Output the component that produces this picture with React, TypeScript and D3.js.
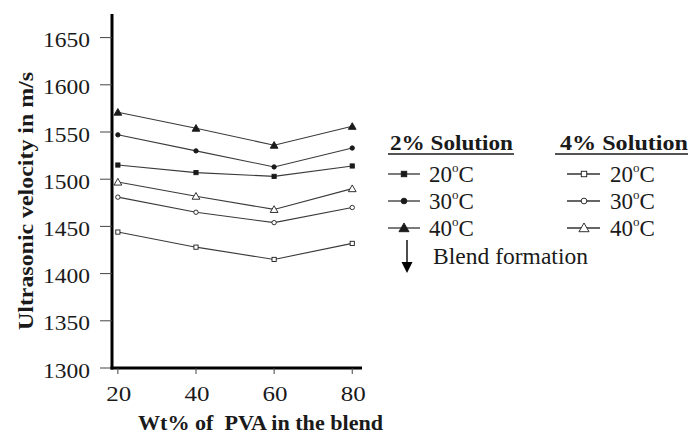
import React from "react";
import * as d3 from "d3";

// --- Data ---
const PVA = [20, 40, 60, 80];
const SOL2_20 = [1515, 1507, 1503, 1514];
const SOL2_30 = [1547, 1530, 1513, 1533];
const SOL2_40 = [1571, 1554, 1536, 1556];
const SOL4_20 = [1444, 1428, 1415, 1432];
const SOL4_30 = [1481, 1465, 1454, 1470];
const SOL4_40 = [1497, 1482, 1468, 1490];
const Y_TICKS = [1300, 1350, 1400, 1450, 1500, 1550, 1600, 1650];
const X_TICKS = [20, 40, 60, 80];
const TEMPS = ["20", "30", "40"];

type Marker = "square" | "circle" | "triangle";
const MARKERS: Marker[] = ["square", "circle", "triangle"];
const SERIES: { values: number[]; marker: Marker; filled: boolean }[] = [
  { values: SOL2_20, marker: "square", filled: true },
  { values: SOL2_30, marker: "circle", filled: true },
  { values: SOL2_40, marker: "triangle", filled: true },
  { values: SOL4_20, marker: "square", filled: false },
  { values: SOL4_30, marker: "circle", filled: false },
  { values: SOL4_40, marker: "triangle", filled: false },
];

const W = 691;
const H = 434;
const FONT = "'Liberation Serif', 'DejaVu Serif', serif";
const INK = "#1a1a1a";

function MarkerShape({ x, y, kind, filled, big = false }: { x: number; y: number; kind: Marker; filled: boolean; big?: boolean }) {
  const fill = filled ? INK : "#fff";
  const s = big ? 1.3 : 1;
  if (kind === "square") {
    const h = 2.1 * s;
    return <rect x={x - h} y={y - h} width={2 * h} height={2 * h} fill={fill} stroke={INK} strokeWidth={0.9} />;
  }
  if (kind === "circle") {
    return <circle cx={x} cy={y} r={2.2 * s} fill={fill} stroke={INK} strokeWidth={0.9} />;
  }
  const sym = d3.symbol().type(d3.symbolTriangle).size(26 * s * s)();
  return <path d={sym || ""} transform={`translate(${x},${y + 0.8})`} fill={fill} stroke={INK} strokeWidth={0.9} />;
}

function Deg({ t, x, y }: { t: string; x: number; y: number }) {
  return (
    <text x={x} y={y} fontFamily={FONT} fontSize={23} fill={INK}>
      {t}
      <tspan dy={-10} fontSize={13}>o</tspan>
      <tspan dy={10}>C</tspan>
    </text>
  );
}

export default function App() {
  const x = d3.scaleLinear().domain([18.5, 82.5]).range([112, 362]);
  const y = d3.scaleLinear().domain([1300, 1675]).range([368, 14]);
  const line = d3
    .line<number>()
    .x((_, i) => x(PVA[i]))
    .y((d) => y(d));

  const rowY = [182, 209, 236];

  return (
    <svg width={W} height={H} style={{ position: "absolute", left: 0, top: 0, background: "#fff" }}>
      {/* series */}
      {SERIES.map((s, k) => (
        <g key={k}>
          <path d={line(s.values) || ""} fill="none" stroke="#3a3a3a" strokeWidth={1.1} />
          {s.values.map((v, i) => (
            <MarkerShape key={i} x={x(PVA[i])} y={y(v)} kind={s.marker} filled={s.filled} />
          ))}
        </g>
      ))}

      {/* y axis */}
      <line x1={112} x2={112} y1={14} y2={369.5} stroke="#000" strokeWidth={3} />
      {Y_TICKS.map((t) => (
        <g key={t}>
          <line x1={100} x2={112} y1={y(t)} y2={y(t)} stroke="#444" strokeWidth={1} />
          <text x={90} y={y(t) + 9.5} textAnchor="end" fontFamily={FONT} fontSize={22} fill={INK} textLength={47} lengthAdjust="spacingAndGlyphs">
            {t}
          </text>
        </g>
      ))}

      {/* x axis */}
      <line x1={110.5} x2={362} y1={368} y2={368} stroke="#000" strokeWidth={3} />
      {X_TICKS.map((t) => (
        <g key={t}>
          <line x1={x(t)} x2={x(t)} y1={368} y2={374} stroke="#444" strokeWidth={1} />
          <text x={x(t) + 1} y={401} textAnchor="middle" fontFamily={FONT} fontSize={22} fill={INK} textLength={25} lengthAdjust="spacingAndGlyphs">
            {t}
          </text>
        </g>
      ))}

      {/* axis titles */}
      <text x={138} y={430} fontFamily={FONT} fontSize={22} fontWeight="bold" fill={INK} xmlSpace="preserve" textLength={245} lengthAdjust="spacingAndGlyphs">
        Wt% of  PVA in the blend
      </text>
      <text
        transform={`translate(33,201) rotate(-90)`}
        textAnchor="middle"
        fontFamily={FONT}
        fontSize={20}
        fontWeight="bold"
        fill={INK}
        textLength={258}
        lengthAdjust="spacingAndGlyphs"
      >
        Ultrasonic velocity in m/s
      </text>

      {/* legend */}
      <text x={390} y={150} fontFamily={FONT} fontSize={22} fontWeight="bold" fill={INK} textLength={123} lengthAdjust="spacingAndGlyphs">
        2% Solution
      </text>
      <line x1={388} x2={514} y1={154} y2={154} stroke={INK} strokeWidth={1.4} />
      <text x={560} y={150} fontFamily={FONT} fontSize={22} fontWeight="bold" fill={INK} textLength={128} lengthAdjust="spacingAndGlyphs">
        4% Solution
      </text>
      <line x1={555} x2={688} y1={154} y2={154} stroke={INK} strokeWidth={1.4} />

      {TEMPS.map((t, i) => (
        <g key={t}>
          <line x1={388} x2={420} y1={rowY[i] - 8} y2={rowY[i] - 8} stroke="#333" strokeWidth={1.3} />
          <MarkerShape x={404} y={rowY[i] - 8} kind={MARKERS[i]} filled={true} big />
          <Deg t={t} x={429} y={rowY[i]} />
          <line x1={567} x2={600} y1={rowY[i] - 8} y2={rowY[i] - 8} stroke="#333" strokeWidth={1.3} />
          <MarkerShape x={584} y={rowY[i] - 8} kind={MARKERS[i]} filled={false} big />
          <Deg t={t} x={610} y={rowY[i]} />
        </g>
      ))}

      {/* blend formation arrow */}
      <line x1={407} x2={407} y1={240} y2={263} stroke="#000" strokeWidth={1.4} />
      <path d="M401.5,262 L412.5,262 L407,273 Z" fill="#000" />
      <text x={433} y={264} fontFamily={FONT} fontSize={23} fill={INK} textLength={155} lengthAdjust="spacingAndGlyphs">
        Blend formation
      </text>
    </svg>
  );
}
